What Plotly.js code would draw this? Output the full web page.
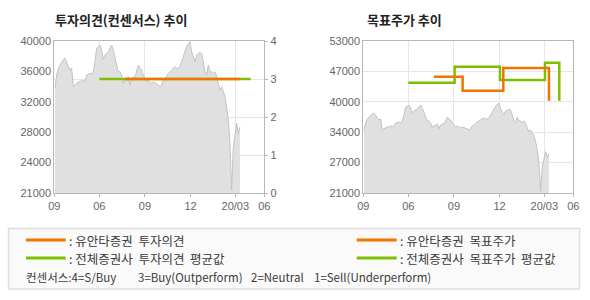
<!DOCTYPE html>
<html><head><meta charset="utf-8">
<script src="https://cdn.plot.ly/plotly-3.0.1.min.js"></script>
<style>html,body{margin:0;padding:0;background:#fff}#chart{width:590px;height:300px}</style>
</head><body><div id="chart"></div>
<script>
// ---- data ----
const priceSeries = [34050,35750,36600,37000,37400,37700,37850,37200,36800,36350,36600,34300,34500,34700,34900,34900,35100,35050,34900,35750,35850,35950,35850,36150,37400,39100,39300,39500,38850,37700,38250,38450,38650,39100,39500,38850,37700,37000,36150,36150,35750,34700,35300,35100,35550,34500,35300,35550,35450,36150,37000,36600,36350,35750,35300,34900,35100,34900,34700,34900,34800,34700,34500,34300,34500,35100,35300,35550,35950,36150,36350,36600,36800,36600,36600,36800,37400,38250,38650,39300,39700,39900,38650,38050,37400,38250,38450,38550,38450,37200,36150,35750,37000,36150,36150,35950,36150,35550,34500,33850,34300,33650,33050,31750,30100,27200,21400,26750,28450,29700,28450,29250];
const priceIndex = priceSeries.map((v, i) => i);

const opinionAvgX = [26.6, 117.4];
const opinionAvgY = [3, 3];
const opinionYuantaX = [42, 111];
const opinionYuantaY = [3, 3];

const targetAvgX = [26.6, 54.4, 81.6, 108.6, 117.2, 117.2];
const targetAvgY = [44200, 47600, 44800, 48400, 48400, 40400];
const targetYuantaX = [42, 59.2, 83.6, 111, 111];
const targetYuantaY = [45500, 42500, 47300, 47300, 40400];

const xTickVals = [-0.4, 26.6, 54, 81.4, 108.2, 125.6];
const xTickText = ['09', '06', '09', '12', '20/03', '06'];
const leftPriceTickVals = [40000, 36200, 32400, 28600, 24800, 21000];
const leftPriceTickText = ['40000', '36000', '32000', '28000', '24000', '21000'];
const opinionTickVals = [0, 1, 2, 3, 4];
const rightPriceTickVals = [21000, 27400, 33800, 40200, 46600, 53000];
const rightPriceTickText = ['21000', '27000', '34000', '40000', '47000', '53000'];

const legendLabels = [':\u00a0유안타증권\u00a0\u00a0투자의견', ':\u00a0전체증권사\u00a0\u00a0투자의견\u00a0\u00a0평균값', ':\u00a0유안타증권\u00a0\u00a0목표주가', ':\u00a0전체증권사\u00a0\u00a0목표주가\u00a0\u00a0평균값'];
const consensusLabels = ['컨센서스:4=S/Buy', '3=Buy(Outperform)', '2=Neutral', '1=Sell(Underperform)'];

// ---- style ----
const W = 590, H = 300;
const ORANGE = '#f27400', GREEN = '#80bf00';
const px = v => v / W, py = v => 1 - v / H;
const tickFont = {family: 'Liberation Sans, Arial, sans-serif', size: 11, color: '#666'};
const krFont = 'Noto Sans CJK KR, sans-serif';
const yDom = [py(193), py(41)];

const areaStyle = {type: 'scatter', mode: 'lines', fill: 'tozeroy', fillcolor: '#e0e0e0',
  line: {color: '#c2c2c2', width: 1}, hoverinfo: 'skip', showlegend: false};
const stepLine = (x, y, color, xa, ya) => ({type: 'scatter', mode: 'lines', x, y, xaxis: xa, yaxis: ya,
  line: {color, width: 2.5, shape: 'hv'}, hoverinfo: 'skip', showlegend: false});

const traces = [
  Object.assign({x: priceIndex, y: priceSeries, xaxis: 'x', yaxis: 'y'}, areaStyle),
  stepLine(opinionAvgX, opinionAvgY, GREEN, 'x', 'y2'),
  stepLine(opinionYuantaX, opinionYuantaY, ORANGE, 'x', 'y2'),
  Object.assign({x: priceIndex, y: priceSeries, xaxis: 'x2', yaxis: 'y3'}, areaStyle),
  stepLine(targetAvgX, targetAvgY, GREEN, 'x2', 'y3'),
  stepLine(targetYuantaX, targetYuantaY, ORANGE, 'x2', 'y3')
];

const xBase = {range: [-0.4, 125.6], tickvals: xTickVals, ticktext: xTickText, tickfont: tickFont,
  showgrid: true, gridcolor: '#e6e6e6', gridwidth: 1, zeroline: false, showline: true, linecolor: '#b8b8b8',
  mirror: true, ticks: 'outside', ticklen: 3, tickcolor: '#b8b8b8', fixedrange: true};

const layout = {
  width: W, height: H, margin: {l: 0, r: 0, t: 0, b: 0},
  paper_bgcolor: '#fff', plot_bgcolor: '#fff', showlegend: false,
  xaxis: Object.assign({}, xBase, {domain: [px(54.3), px(264.3)], anchor: 'y'}),
  yaxis: {domain: yDom, range: [21000, 40000], tickvals: leftPriceTickVals, ticktext: leftPriceTickText,
    tickfont: tickFont, showgrid: false, zeroline: false, showline: true, linecolor: '#b8b8b8', ticks: '', anchor: 'x'},
  yaxis2: {overlaying: 'y', side: 'right', anchor: 'x', range: [0, 4], tickvals: opinionTickVals, tickfont: tickFont,
    showgrid: true, gridcolor: '#e6e6e6', zeroline: false, showline: true, linecolor: '#b8b8b8',
    ticks: 'outside', ticklen: 3, tickcolor: '#b8b8b8'},
  xaxis2: Object.assign({}, xBase, {domain: [px(363.3), px(573.3)], anchor: 'y3'}),
  yaxis3: {domain: yDom, anchor: 'x2', range: [21000, 53000], tickvals: rightPriceTickVals, ticktext: rightPriceTickText,
    tickfont: tickFont, showgrid: true, gridcolor: '#e6e6e6', zeroline: false, showline: true, mirror: true,
    linecolor: '#b8b8b8', ticks: ''},
  shapes: [
    {type: 'rect', xref: 'paper', yref: 'paper', x0: px(8.5), x1: px(579.5), y0: py(289), y1: py(228.5),
      fillcolor: '#fafafa', line: {color: '#dedede', width: 1.5}, layer: 'below'},
    {type: 'line', xref: 'paper', yref: 'paper', x0: px(26), x1: px(65.7), y0: py(240), y1: py(240), line: {color: ORANGE, width: 3}},
    {type: 'line', xref: 'paper', yref: 'paper', x0: px(26), x1: px(65.7), y0: py(258), y1: py(258), line: {color: GREEN, width: 3}},
    {type: 'line', xref: 'paper', yref: 'paper', x0: px(356.7), x1: px(396.7), y0: py(240), y1: py(240), line: {color: ORANGE, width: 3}},
    {type: 'line', xref: 'paper', yref: 'paper', x0: px(356.7), x1: px(396.7), y0: py(258), y1: py(258), line: {color: GREEN, width: 3}}
  ],
  annotations: []
};

const ann = (x, y, text, font) => ({xref: 'paper', yref: 'paper', x: px(x), y: py(y), text, showarrow: false,
  xanchor: 'left', yanchor: 'middle', font});
const titleFont = {family: krFont, size: 13, color: '#222'};
const legFont = {family: krFont, size: 12.5, color: '#3a3a3a'};
const consFont = {family: krFont, size: 11.5, color: '#3a3a3a'};
layout.annotations.push(
  ann(53, 20, '<b>투자의견(컨센서스) 추이</b>', titleFont),
  ann(365, 20, '<b>목표주가 추이</b>', titleFont),
  ann(67, 240, legendLabels[0], legFont),
  ann(67, 258, legendLabels[1], legFont),
  ann(398, 240, legendLabels[2], legFont),
  ann(398, 258, legendLabels[3], legFont),
  ann(24, 277, consensusLabels[0], consFont),
  ann(136, 277, consensusLabels[1], consFont),
  ann(249, 277, consensusLabels[2], consFont),
  ann(312, 277, consensusLabels[3], consFont)
);

Plotly.newPlot('chart', traces, layout, {staticPlot: true, displayModeBar: false});
</script></body></html>
